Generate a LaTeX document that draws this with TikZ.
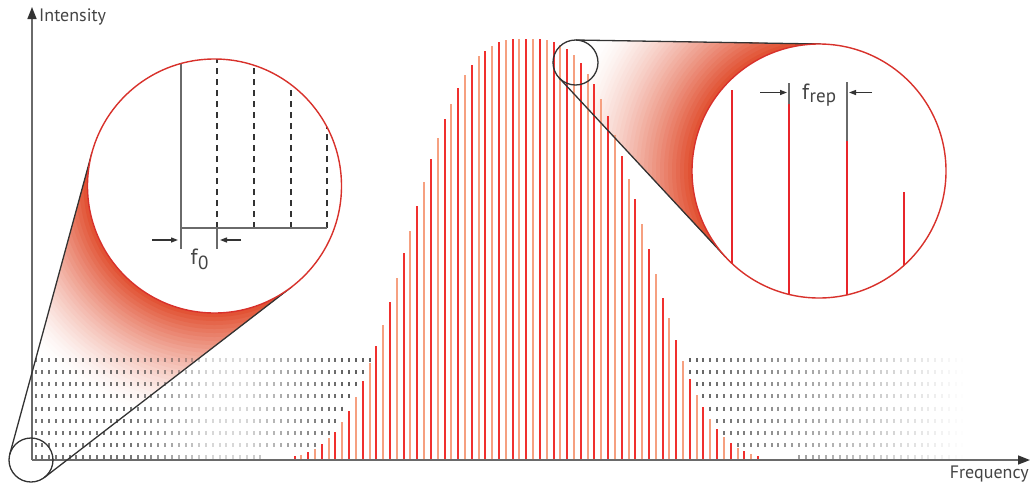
\documentclass[tikz,border=0pt]{standalone}
\usepackage{fontspec}
\setmainfont{PT Sans}
\usetikzlibrary{arrows.meta,calc}
\definecolor{combred}{HTML}{F0302E}
\definecolor{combsal}{HTML}{F6A080}
\definecolor{ringred}{HTML}{D8312B}
\definecolor{conered}{HTML}{E04A2A}
\definecolor{axisgray}{HTML}{6A6A6A}
\definecolor{inkgray}{HTML}{333333}
\definecolor{textgray}{HTML}{444444}
\definecolor{gridink}{HTML}{3A3A3A}
\definecolor{zoomred}{HTML}{E8252B}
\tikzset{
  axisline/.style={draw=axisgray, line width=1.5pt, -{Triangle[length=12pt,width=9pt,color=inkgray]}},
  conetan/.style={draw=inkgray, line width=1.3pt},
  smallring/.style={draw=inkgray, line width=1.3pt},
  bigring/.style={draw=ringred, line width=1.4pt},
  combR/.style={draw=combred, line width=2pt},
  combS/.style={draw=combsal, line width=2.8pt},
  gridtick/.style={draw=gridink, line width=1.8pt},
  zoomline/.style={draw=zoomred, line width=2pt},
  zoomext/.style={draw=axisgray, line width=1.6pt},
  solidgray/.style={draw=axisgray, line width=1.6pt},
  dashgray/.style={draw=inkgray, line width=1.6pt, dash pattern=on 6pt off 5pt},
  dimarrow/.style={draw=inkgray, line width=1.3pt, -{Triangle[length=7pt,width=5pt]}},
  axislabel/.style={text=textgray, font=\fontsize{18}{18}\selectfont, inner sep=0pt},
  biglabel/.style={text=textgray, font=\fontsize{22}{22}\selectfont, inner sep=0pt},
}
\begin{document}
\begin{tikzpicture}[x=1pt,y=-1pt]
\useasboundingbox (0,0) rectangle (1032,483);
% circle centres
\coordinate (sL) at (31,460);
\coordinate (bL) at (214.5,186);
\coordinate (sR) at (575.5,62.5);
\coordinate (bR) at (819,171);
% tangent points
\coordinate (sL1) at ($(sL)+(-164.75:22)$);
\coordinate (sL2) at ($(sL)+(52.37:22)$);
\coordinate (bL1) at ($(bL)+(-164.75:127)$);
\coordinate (bL2) at ($(bL)+(52.37:127)$);
\coordinate (sR1) at ($(sR)+(-89.06:22.5)$);
\coordinate (sR2) at ($(sR)+(137.1:22.5)$);
\coordinate (bR1) at ($(bR)+(-89.06:127)$);
\coordinate (bR2) at ($(bR)+(137.1:127)$);
% cone shadings (concentric rings fading from the big circle outwards)
\begin{scope}
  \clip (sL1) -- (bL1) -- (bL2) -- (sL2) -- cycle;
  \foreach \r in {239,235,...,127}{
    \pgfmathsetmacro\pc{100*(1-(\r-127)/114)*sqrt(1-(\r-127)/114)}
    \fill[conered!\pc!white] (bL) circle [radius=\r];
  }
\end{scope}
\begin{scope}
  \clip (sR1) -- (bR1) -- (bR2) -- (sR2) -- cycle;
  \foreach \r in {255,251,...,127}{
    \pgfmathsetmacro\pc{100*(1-(\r-127)/130)*sqrt(1-(\r-127)/130)}
    \fill[conered!\pc!white] (bR) circle [radius=\r];
  }
\end{scope}
% grid of ticks and frequency comb
\foreach \k in {0,...,136}{
  \pgfmathsetmacro\xx{round(35.6+6.815*\k)}
  \pgfmathsetmacro\dd{min(abs(\xx-527)/138,2.6)}
  \pgfmathsetmacro\hh{421*exp(-\dd*\dd*\dd)}
  \pgfmathsetmacro\op{ifthenelse(\xx<527,
      ifthenelse(\xx<130,0.7,ifthenelse(\xx<210,0.7-0.5*(\xx-130)/80,ifthenelse(\xx<245,0.2,min(0.8,0.2+0.6*(\xx-245)/100)))),
      max(0,min(0.8,0.8*(1-(\xx-690)/275))))}
  \foreach \j in {0,...,8}{
    \pgfmathsetmacro\yy{360+12.15*\j}
    \pgfmathtruncatemacro\ok{ifthenelse(460-\hh>\yy+2.5,1,0)}
    \ifnum\ok=1
      \draw[gridtick, draw opacity=\op] (\xx,\yy-2) -- (\xx,\yy+2);
    \fi
  }
  \ifnum\k>37 \ifnum\k<107
    \pgfmathtruncatemacro\pty{mod(\k,2)}
    \ifnum\pty=0
      \draw[combR] (\xx,460) -- (\xx,460-\hh);
    \else
      \draw[combS] (\xx,460) -- (\xx,460-\hh);
    \fi
  \fi\fi
}
% axes
\coordinate (O) at (32,460);
\coordinate (ytip) at (32,7);
\coordinate (xtip) at (1030,460);
\draw[axisline] (O) -- (ytip);
\draw[axisline] (O) -- (xtip);
\node[axislabel, anchor=base west] (ylab) at (39,21.5) {Intensity};
\node[axislabel, anchor=base east] (xlab) at (1029,478.5) {Frequency};
% cone edges
\draw[conetan] (sL1) -- (bL1);
\draw[conetan] (sL2) -- (bL2);
\draw[conetan] (sR1) -- (bR1);
\draw[conetan] (sR2) -- (bR2);
% left magnified circle
\fill[white] (bL) circle [radius=127];
\begin{scope}
  \clip (bL) circle [radius=127];
  \foreach \xd in {217,254,291,327}{
    \draw[dashgray] (\xd,228) -- (\xd,50);
  }
  \draw[solidgray] (181,40) -- (181,249);
  \draw[solidgray] (181,228) -- (327,228);
  \draw[solidgray] (217,228) -- (217,249);
\end{scope}
\coordinate (a1s) at (152,240);
\coordinate (a1e) at (178,240);
\coordinate (a2s) at (241,240);
\coordinate (a2e) at (220,240);
\draw[dimarrow] (a1s) -- (a1e);
\draw[dimarrow] (a2s) -- (a2e);
\node[biglabel, anchor=base west] (f0) at (190.5,264) {f\kern0.5pt\raisebox{-5pt}{\fontsize{19}{19}\selectfont 0}};
\draw[bigring] (bL) circle [radius=127];
% right magnified circle
\fill[white] (bR) circle [radius=127];
\begin{scope}
  \clip (bR) circle [radius=127];
  \draw[zoomline] (732,90) -- (732,310);
  \draw[zoomline] (789,104) -- (789,310);
  \draw[zoomline] (847,140.7) -- (847,310);
  \draw[zoomline] (904,192.3) -- (904,310);
\end{scope}
\draw[zoomext] (789,83) -- (789,104);
\draw[zoomext] (847,82) -- (847,140.7);
\coordinate (b1s) at (760,92.5);
\coordinate (b1e) at (787,92.5);
\coordinate (b2s) at (872,92.5);
\coordinate (b2e) at (849,92.5);
\draw[dimarrow] (b1s) -- (b1e);
\draw[dimarrow] (b2s) -- (b2e);
\node[biglabel, anchor=base west] (frep) at (802,99) {f\kern0.5pt\raisebox{-3pt}{\fontsize{19}{19}\selectfont rep}};
\draw[bigring] (bR) circle [radius=127];
% small circles
\draw[smallring] (sL) circle [radius=22];
\draw[smallring] (sR) circle [radius=22.5];
\end{tikzpicture}
\end{document}
